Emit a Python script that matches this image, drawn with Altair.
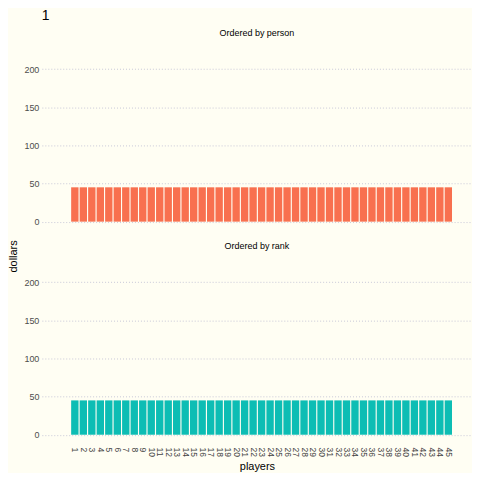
import altair as alt
import pandas as pd

players = [
    1, 2, 3, 4, 5, 6, 7, 8, 9, 10,
    11, 12, 13, 14, 15, 16, 17, 18, 19, 20,
    21, 22, 23, 24, 25, 26, 27, 28, 29, 30,
    31, 32, 33, 34, 35, 36, 37, 38, 39, 40,
    41, 42, 43, 44, 45,
]
dollars_person = [
    45, 45, 45, 45, 45, 45, 45, 45, 45, 45,
    45, 45, 45, 45, 45, 45, 45, 45, 45, 45,
    45, 45, 45, 45, 45, 45, 45, 45, 45, 45,
    45, 45, 45, 45, 45, 45, 45, 45, 45, 45,
    45, 45, 45, 45, 45,
]
dollars_rank = [
    45, 45, 45, 45, 45, 45, 45, 45, 45, 45,
    45, 45, 45, 45, 45, 45, 45, 45, 45, 45,
    45, 45, 45, 45, 45, 45, 45, 45, 45, 45,
    45, 45, 45, 45, 45, 45, 45, 45, 45, 45,
    45, 45, 45, 45, 45,
]
y_ticks = [0, 50, 100, 150, 200]
frame_label = "1"

FONT = "Liberation Sans"
W, H = 432, 187

x_scale = alt.Scale(domain=[-2.3, 47.2], nice=False, zero=False)
y_scale = alt.Scale(domain=[-11, 233], nice=False, zero=False)


def panel(values, color, title, bottom):
    df = pd.DataFrame({"players": players, "dollars": values})
    if bottom:
        x_axis = alt.Axis(values=players, labelAngle=90, labelAlign="left",
                          labelBaseline="middle", labelFontSize=8.5, labelPadding=4,
                          labelColor="#444444", labelFlush=False, labelOverlap=False,
                          grid=False, title="players", titleFontSize=11,
                          titleFontWeight="normal", titlePadding=4)
        y_axis = alt.Axis(values=y_ticks, title=None)
    else:
        x_axis = None
        y_axis = alt.Axis(values=y_ticks, title="dollars", titleY=H + 26,
                          titleX=-23, titleFontSize=11, titleFontWeight="normal")
    return (
        alt.Chart(df)
        .mark_bar(color=color, size=7.4)
        .encode(
            x=alt.X("players:Q", scale=x_scale, axis=x_axis),
            y=alt.Y("dollars:Q", scale=y_scale, axis=y_axis),
        )
        .properties(width=W, height=H,
                    title=alt.TitleParams(title, fontSize=9, fontWeight="normal",
                                          offset=6, font=FONT))
    )


top = panel(dollars_person, "#F8704F", "Ordered by person", False)
bot = panel(dollars_rank, "#0DBDB4", "Ordered by rank", True)

chart = (
    alt.vconcat(top, bot, spacing=27, bounds="flush")
    .properties(
        title=alt.TitleParams(frame_label, anchor="start", frame="group", fontSize=14,
                              fontWeight="normal", font=FONT, offset=6),
        background="#FFFEF3",
        padding={"left": 0, "top": 0, "right": 0, "bottom": 0},
    )
    .configure_view(stroke=None)
    .configure_axis(
        labelFont=FONT, titleFont=FONT, labelFontSize=9, labelColor="#4d4d4d",
        titleColor="#000000", ticks=False, tickSize=0, domain=False,
        gridColor="#c8c8d8", gridDash=[1, 2], labelPadding=3,
    )
    .configure_axisX(grid=False)
)

chart.save("out.html", embed_options={"renderer": "svg", "actions": False})
